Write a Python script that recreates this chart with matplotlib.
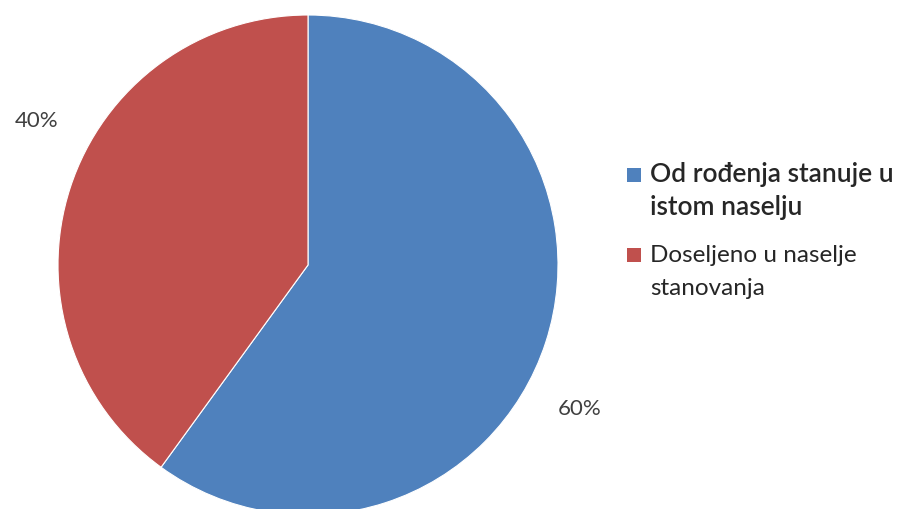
import numpy as np
import matplotlib
matplotlib.use("Agg")
import matplotlib.pyplot as plt
from matplotlib.patches import Rectangle

plt.rcParams['font.family'] = ['Lato', 'DejaVu Sans']

labels = ["Od rođenja stanuje u\nistom naselju", "Doseljeno u naselje\nstanovanja"]
shares = [60, 40]
colors = ["#4F81BD", "#C0504D"]

W, H = 900, 509
fig = plt.figure(figsize=(9, 5.09), dpi=100, facecolor="white")
# pie centre ~ (308, 265) px from top, radius ~250 px
ax = fig.add_axes([58 / W, -6 / H, 500 / W, 500 / H])
wedges, _ = ax.pie(shares, colors=colors, startangle=90, counterclock=False,
                   radius=1.0, wedgeprops=dict(edgecolor="white", linewidth=0.8))
ax.set_xlim(-1, 1)
ax.set_ylim(-1, 1)
ax.set_aspect("equal")
ax.axis("off")

# percent labels sit outside, a bit clockwise of the slice middle
for w, v in zip(wedges, shares):
    mid = np.deg2rad((w.theta1 + w.theta2) / 2 - 10)
    ax.text(1.23 * np.cos(mid), 1.23 * np.sin(mid), f"{v}%", ha="center", va="center",
            fontsize=16, color="#404040")

# legend drawn by hand so the square lines up with the first text line
entry_top = [168, 248]   # px from top, square top of each entry
for i, (lab, c) in enumerate(zip(labels, colors)):
    y0 = entry_top[i]
    fig.patches.append(Rectangle((627 / W, 1 - (y0 + 14) / H), 14 / W, 14 / H,
                                 transform=fig.transFigure, facecolor=c, edgecolor="none"))
    size = 19 if i == 0 else 17.5
    weight = "semibold" if i == 0 else "normal"
    for j, line in enumerate(lab.split("\n")):
        base = y0 + 14 + j * 33
        fig.text(650 / W, 1 - base / H, line, fontsize=size, fontweight=weight,
                 color="#262626", ha="left", va="baseline")

fig.savefig("out.png", dpi=100, facecolor="white")
